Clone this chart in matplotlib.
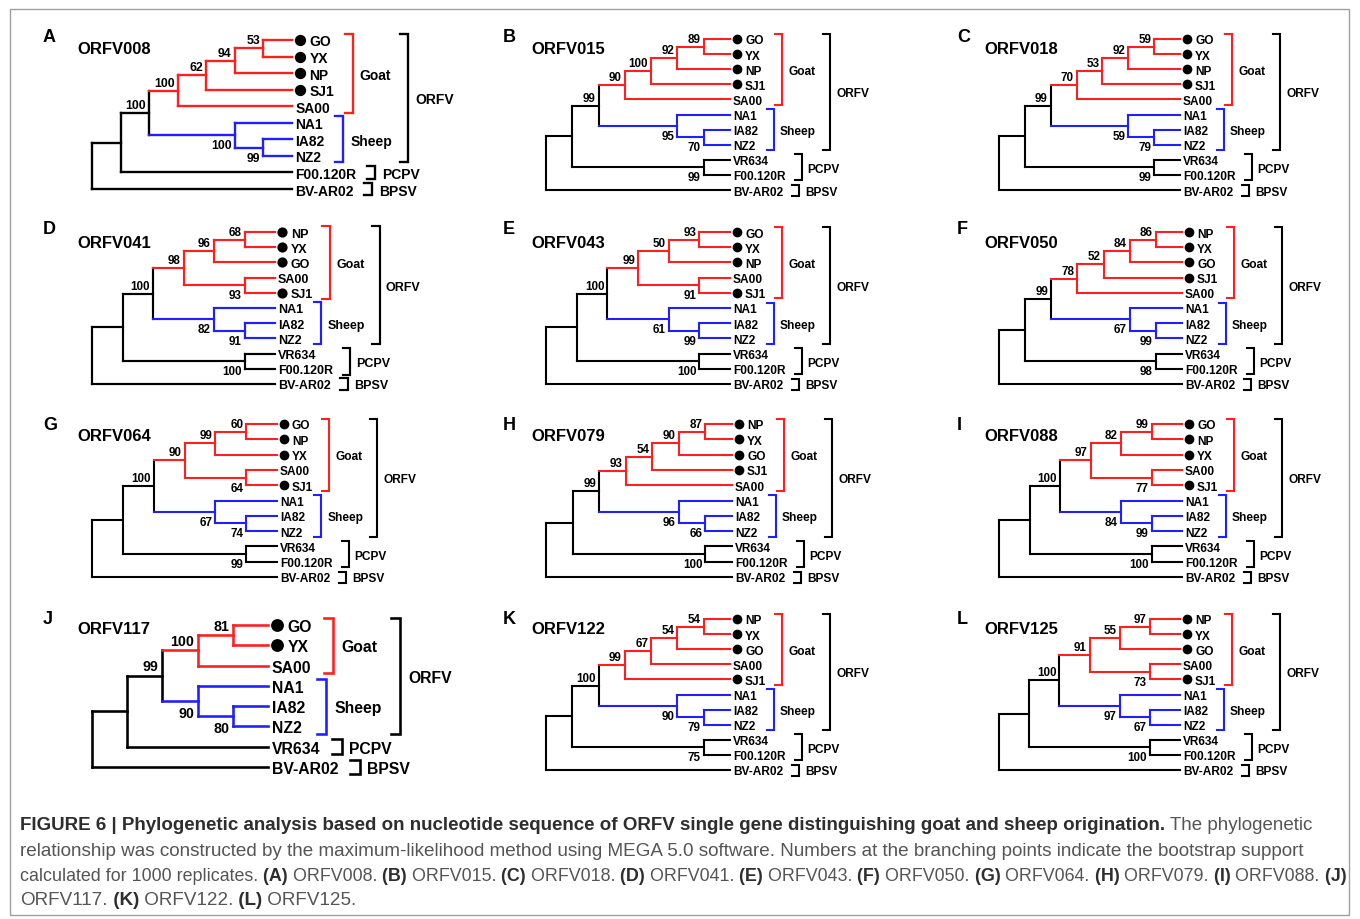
import matplotlib
matplotlib.use('Agg')
import matplotlib.pyplot as plt
from matplotlib.patches import Rectangle

plt.rcParams['font.family'] = ['Liberation Sans', 'DejaVu Sans']
plt.rcParams['font.weight'] = 'bold'

# ---- data: one tree per gene (newick, bootstrap after each clade) ----
letters = list('ABCDEFGHIJKL')
genes = ['ORFV008', 'ORFV015', 'ORFV018', 'ORFV041', 'ORFV043', 'ORFV050',
         'ORFV064', 'ORFV079', 'ORFV088', 'ORFV117', 'ORFV122', 'ORFV125']
trees = [
    '(((((((GO,YX)53,NP)94,SJ1)62,SA00)100,(NA1,(IA82,NZ2)99)100)100,F00.120R),BV-AR02)',
    '(((((((GO,YX)89,NP)92,SJ1)100,SA00)90,(NA1,(IA82,NZ2)70)95)99,(VR634,F00.120R)99),BV-AR02)',
    '(((((((GO,YX)59,NP)92,SJ1)53,SA00)70,(NA1,(IA82,NZ2)79)59)99,(VR634,F00.120R)99),BV-AR02)',
    '((((((NP,YX)68,GO)96,(SA00,SJ1)93)98,(NA1,(IA82,NZ2)91)82)100,(VR634,F00.120R)100),BV-AR02)',
    '((((((GO,YX)93,NP)50,(SA00,SJ1)91)99,(NA1,(IA82,NZ2)99)61)100,(VR634,F00.120R)100),BV-AR02)',
    '(((((((NP,YX)86,GO)84,SJ1)52,SA00)78,(NA1,(IA82,NZ2)99)67)99,(VR634,F00.120R)98),BV-AR02)',
    '((((((GO,NP)60,YX)99,(SA00,SJ1)64)90,(NA1,(IA82,NZ2)74)67)100,(VR634,F00.120R)99),BV-AR02)',
    '(((((((NP,YX)87,GO)90,SJ1)54,SA00)93,(NA1,(IA82,NZ2)66)96)99,(VR634,F00.120R)100),BV-AR02)',
    '((((((GO,NP)99,YX)82,(SA00,SJ1)77)97,(NA1,(IA82,NZ2)99)84)100,(VR634,F00.120R)100),BV-AR02)',
    '(((((GO,YX)81,SA00)100,(NA1,(IA82,NZ2)80)90)99,VR634),BV-AR02)',
    '(((((((NP,YX)54,GO)54,SA00)67,SJ1)99,(NA1,(IA82,NZ2)79)90)100,(VR634,F00.120R)75),BV-AR02)',
    '((((((NP,YX)97,GO)55,(SA00,SJ1)73)91,(NA1,(IA82,NZ2)67)97)100,(VR634,F00.120R)100),BV-AR02)',
]
goat = ['GO', 'YX', 'NP', 'SJ1', 'SA00']
sheep = ['NA1', 'IA82', 'NZ2']
pcpv = ['VR634', 'F00.120R']
bpsv = ['BV-AR02']
dotted = ['GO', 'YX', 'NP', 'SJ1']

caption = [
    [('FIGURE 6 | Phylogenetic analysis based on nucleotide sequence of ORFV single gene '
      'distinguishing goat and sheep origination.', True), (' The phylogenetic', False)],
    [('relationship was constructed by the maximum-likelihood method using MEGA 5.0 software. '
      'Numbers at the branching points indicate the bootstrap support', False)],
    [('calculated for 1000 replicates.', False)] +
    [p for L, g in zip(letters[:10], genes[:10]) for p in ((' (%s)' % L, True), (' %s.' % g, False))][:-1],
    [('ORFV117.', False), (' (K)', True), (' ORFV122.', False), (' (L)', True), (' ORFV125.', False)],
]

# ---- layout (pixels) ----
W, H = 1360, 920
root_x = [92, 546, 999]
leaf_x = [292, 730, 1180, 275, 730, 1182, 277, 732, 1182, 268, 730, 1180]
leaf_y = [(41, 190), (40, 191), (40, 191), (233, 385), (233, 385), (233, 385),
          (425, 578), (425, 578), (425, 578), (626, 768), (620, 771), (620, 771)]
letter_x = [43, 503, 957]
letter_y = [37, 229, 426, 620]
title_x = [77, 531, 984]
title_y = [49, 244, 437, 630]
scale = [1.16, 1, 1, 1.05, 1, 1, 1, 1, 1, 1.32, 1, 1]
boot_scale = [1.05, 1, 1, 1, 1, 1, 1, 1, 1, 1.22, 1, 1]
cap_y = [826, 852, 877, 901]
cap_right = [1323, 1312, 1342, None]
RED, BLUE = '#ff1f1f', '#1f1fff'
FS, BFS = 8.6, 8.4


def parse(s):
    pos = 0

    def label():
        nonlocal pos
        st = pos
        while pos < len(s) and s[pos] not in ',()':
            pos += 1
        return s[st:pos]

    def node():
        nonlocal pos
        if s[pos] == '(':
            pos += 1
            kids = [node()]
            while s[pos] == ',':
                pos += 1
                kids.append(node())
            pos += 1
            return {'kids': kids, 'boot': label()}
        return {'kids': [], 'name': label()}
    return node()


def names(n):
    if not n['kids']:
        return [n['name']]
    return sum((names(k) for k in n['kids']), [])


def colour(n):
    nm = names(n)
    if all(v in goat for v in nm):
        return RED
    if all(v in sheep for v in nm):
        return BLUE
    return 'black'


fig = plt.figure(figsize=(W / 100, H / 100), dpi=100)
ax = fig.add_axes([0, 0, 1, 1])
ax.set_xlim(0, W)
ax.set_ylim(H, 0)
ax.axis('off')
r = fig.canvas.get_renderer()

ax.add_patch(Rectangle((10, 10), 1339, 906, fill=False, ec='#a0a0a0', lw=1))

for i, nwk in enumerate(trees):
    row, col = divmod(i, 3)
    s, bs = scale[i], boot_scale[i]
    lw = 1.5 * s ** 0.8
    tree = parse(nwk)

    leaves = []

    def collect(n):
        if not n['kids']:
            leaves.append(n)
        for k in n['kids']:
            collect(k)
    collect(tree)
    y0, y1 = leaf_y[i]
    for j, lf in enumerate(leaves):
        lf['y'] = y0 + j * (y1 - y0) / (len(leaves) - 1)

    def height(n):
        n['h'] = 0 if not n['kids'] else 1 + max(height(k) for k in n['kids'])
        return n['h']
    top = height(tree)
    xr, xl = root_x[col], leaf_x[i]

    def place(n):
        n['x'] = xr + (xl - xr) * (1 - n['h'] / top)
        for k in n['kids']:
            place(k)
        if n['kids']:
            n['y'] = (n['kids'][0]['y'] + n['kids'][-1]['y']) / 2
    place(tree)

    def draw(n, parent=None, idx=0):
        c = colour(n)
        if parent is not None:
            ax.plot([parent['x'], n['x']], [n['y'], n['y']], color=c, lw=lw,
                    solid_capstyle='projecting')
            if n['kids'] and n['boot']:
                if idx == 0:
                    ax.text(n['x'] - 3 * bs, n['y'] - 2 * bs, n['boot'], ha='right',
                            va='bottom', fontsize=BFS * bs)
                else:
                    ax.text(n['x'] - 3 * bs, n['y'] + 4 * bs, n['boot'], ha='right',
                            va='top', fontsize=BFS * bs)
        if n['kids']:
            ax.plot([n['x'], n['x']], [n['kids'][0]['y'], n['kids'][-1]['y']],
                    color=c, lw=lw, solid_capstyle='projecting')
            for j, k in enumerate(n['kids']):
                draw(k, n, j)
    draw(tree)

    texts = {}
    for lf in leaves:
        if lf['name'] in dotted:
            ax.plot(lf['x'] + 7 * s, lf['y'], 'o', ms=7 * s, color='black', mew=0)
            tx = lf['x'] + 15 * s
        else:
            tx = lf['x'] + 3 * s
        texts[lf['name']] = ax.text(tx, lf['y'], lf['name'], ha='left',
                                    va='center_baseline', fontsize=FS * s)
    ypos = {lf['name']: lf['y'] for lf in leaves}

    def bracket(group, colr, label, gap=16):
        present = [nm for nm in group if nm in ypos]
        bx = max(texts[nm].get_window_extent(r).x1 for nm in present) + gap * s
        ya = min(ypos[nm] for nm in present) - 5.5 * s
        yb = max(ypos[nm] for nm in present) + 5.5 * s
        ax.plot([bx - 7 * s, bx, bx, bx - 7 * s], [ya, ya, yb, yb], color=colr,
                lw=lw, solid_joinstyle='miter')
        t = ax.text(bx + 6 * s, (ya + yb) / 2, label, ha='left',
                    va='center_baseline', fontsize=FS * s)
        return t, ya, yb

    tg, ga, gb = bracket(goat, RED, 'Goat')
    tsh, sa, sb = bracket(sheep, BLUE, 'Sheep')
    bracket(pcpv, 'black', 'PCPV')
    bracket(bpsv, 'black', 'BPSV')
    ox = max(tg.get_window_extent(r).x1, tsh.get_window_extent(r).x1) + 14 * s
    ax.plot([ox - 7 * s, ox, ox, ox - 7 * s], [ga, ga, sb, sb], color='black',
            lw=lw, solid_joinstyle='miter')
    ax.text(ox + 6 * s, (ga + sb) / 2, 'ORFV', ha='left', va='center_baseline',
            fontsize=FS * s)

    ax.text(letter_x[col], letter_y[row], letters[i], fontsize=13, va='center', ha='left')
    ax.text(title_x[col], title_y[row], genes[i], fontsize=12, va='center', ha='left')

# ---- caption (each line fitted to the width it takes in the figure) ----
cap_font = ['Liberation Sans Narrow', 'Liberation Sans']


def put_line(line, y, fs):
    x, made = 20, []
    for seg, bold in line:
        t = ax.text(x, y, seg, fontsize=fs, family=cap_font, va='center', ha='left',
                    fontweight='bold' if bold else 'normal',
                    color='#2e2e2e' if bold else '#555555')
        made.append(t)
        x = t.get_window_extent(r).x1
    return x, made


sizes = []
for line, y, right in zip(caption, cap_y, cap_right):
    if right is None:
        sizes.append(sizes[1])
        continue
    end, made = put_line(line, y, 10)
    for t in made:
        t.remove()
    sizes.append(10 * (right - 20) / (end - 20))
for line, y, fs in zip(caption, cap_y, sizes):
    put_line(line, y, fs)

fig.savefig('out.png', dpi=100)
